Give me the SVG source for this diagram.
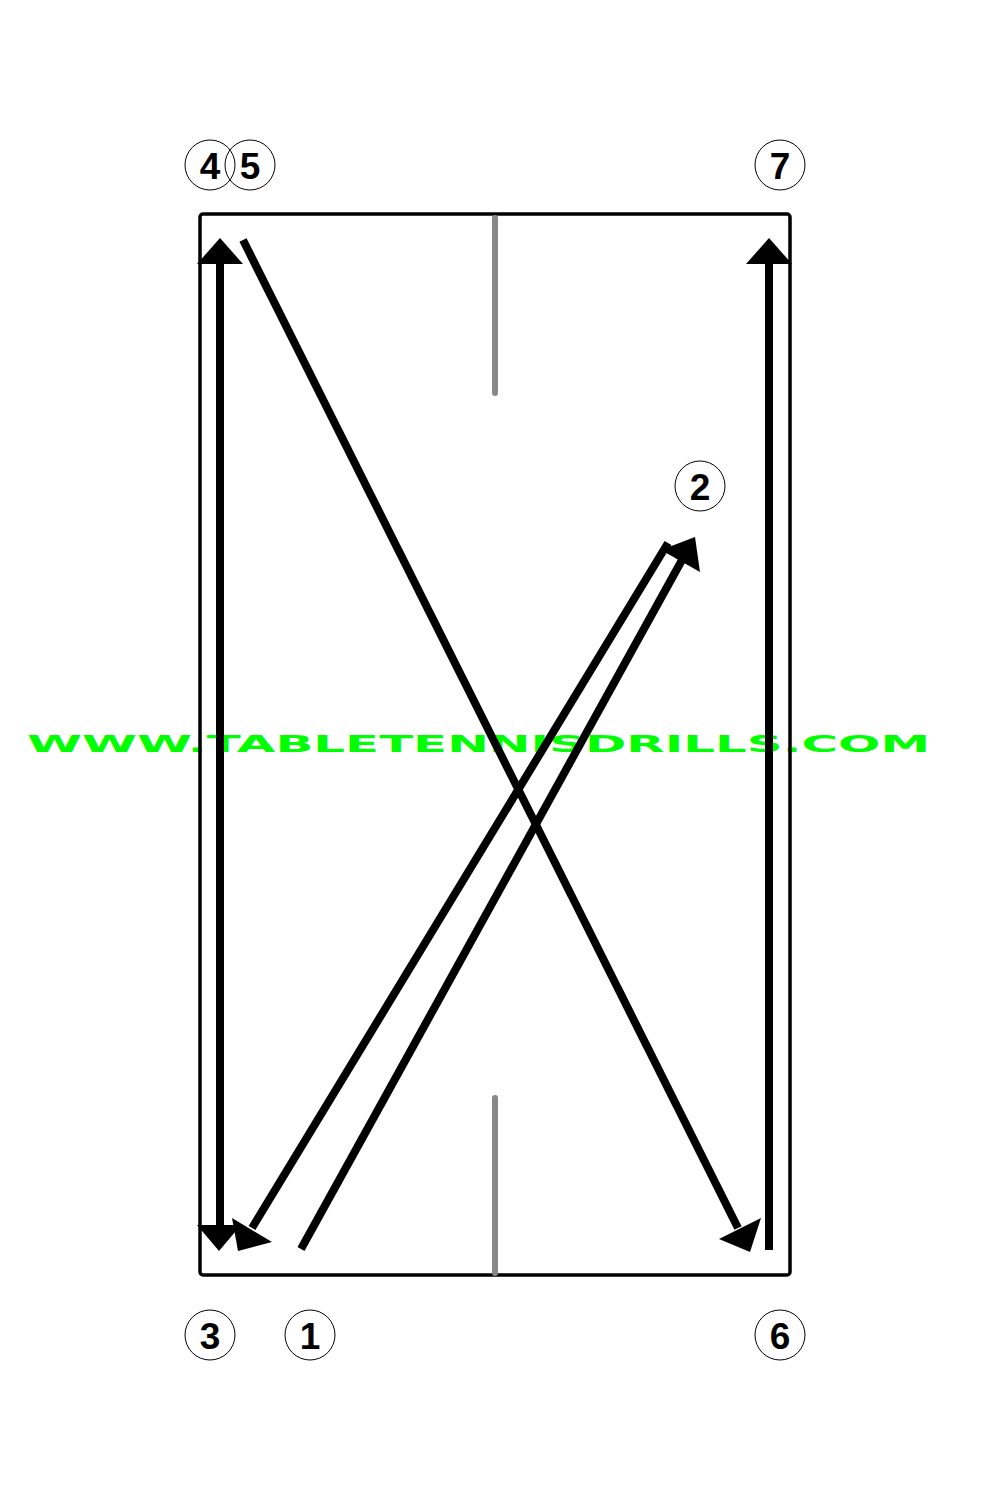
<svg xmlns="http://www.w3.org/2000/svg" width="1000" height="1500" viewBox="0 0 1000 1500">
<style>
.num{font-family:"Liberation Sans",Arial,sans-serif;font-size:37px;font-weight:bold;fill:#000;text-anchor:middle}
.ring{fill:none;stroke:#000;stroke-width:1}
.shot{stroke:#000;stroke-width:8;fill:none}
.head{fill:#000;stroke:none}
.mid{stroke:#888;stroke-width:6;stroke-linecap:round}
</style>
<rect width="1000" height="1500" fill="#fff"/>
<text x="27" y="752" font-family="'DejaVu Sans',sans-serif" font-weight="bold" font-size="23" fill="#00ff00" textLength="903" lengthAdjust="spacingAndGlyphs">WWW.TABLETENNISDRILLS.COM</text>
<g id="table">
<rect x="200" y="214" width="590" height="1061" rx="3" fill="none" stroke="#000" stroke-width="3.5"/>
<line class="mid" x1="495" y1="218" x2="495" y2="393"/>
<line class="mid" x1="495" y1="1098" x2="495" y2="1273"/>
</g>
<g id="connectors">
<line class="shot" x1="220" y1="1226" x2="220" y2="262"/>
<polygon class="head" points="220,238 243,264 197,264"/>
<polygon class="head" points="219,1251 241,1225 197,1225"/>
<line class="shot" x1="243" y1="240" x2="738" y2="1228"/>
<polygon class="head" points="750,1252 761,1218 719,1239"/>
<line class="shot" x1="301" y1="1249" x2="682" y2="560"/>
<polygon class="head" points="695,537 700,572 661,550"/>
<line class="shot" x1="668" y1="543" x2="252" y2="1228"/>
<polygon class="head" points="238,1251 272,1242 232,1218"/>
<line class="shot" x1="769" y1="1250" x2="769" y2="262"/>
<polygon class="head" points="769,238 792,264 746,264"/>
</g>
<g id="n4"><circle class="ring" cx="210" cy="165" r="25"/><text class="num" x="210" y="179">4</text></g>
<g id="n5"><circle class="ring" cx="250" cy="165" r="25"/><text class="num" x="250" y="179">5</text></g>
<g id="n7"><circle class="ring" cx="780" cy="165" r="25"/><text class="num" x="780" y="179">7</text></g>
<g id="n2"><circle class="ring" cx="700" cy="486" r="25"/><text class="num" x="700" y="500">2</text></g>
<g id="n3"><circle class="ring" cx="210" cy="1335" r="25"/><text class="num" x="210" y="1349">3</text></g>
<g id="n1"><circle class="ring" cx="310" cy="1335" r="25"/><text class="num" x="310" y="1349">1</text></g>
<g id="n6"><circle class="ring" cx="780" cy="1335" r="25"/><text class="num" x="780" y="1349">6</text></g>
</svg>
